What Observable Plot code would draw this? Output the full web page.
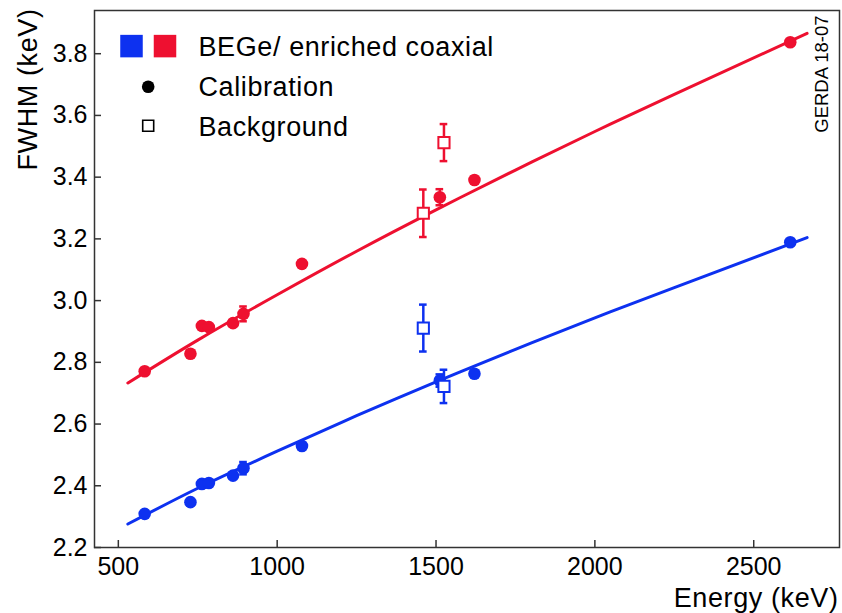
<!DOCTYPE html>
<html><head><meta charset="utf-8">
<script src="https://cdn.jsdelivr.net/npm/d3@7"></script>
<script src="https://cdn.jsdelivr.net/npm/@observablehq/plot@0.6"></script>
<style>
body{margin:0;background:#fff;}
#chart svg{font-family:"Liberation Sans",Arial,sans-serif;background:#fff;}
</style></head><body><div id="chart"></div>
<script>
// Calibration peaks (keV) and FWHM (keV)
const calEnergy = [583, 727, 763, 785, 861, 894, 1078, 1512, 1621, 2615];
const calBEGe = [2.309, 2.347, 2.406, 2.409, 2.433, 2.457, 2.529, 2.741, 2.763, 3.189];
const calBEGeErr = [0.008, 0.01, 0.008, 0.008, 0.01, 0.02, 0.01, 0.02, 0.01, 0.008];
const calCoax = [2.771, 2.828, 2.918, 2.914, 2.927, 2.957, 3.119, 3.335, 3.391, 3.837];
const calCoaxErr = [0.008, 0.01, 0.008, 0.008, 0.01, 0.024, 0.01, 0.026, 0.01, 0.008];
// Background lines (K-40, K-42)
const bkgEnergy = [1460, 1525];
const bkgBEGe = [2.911, 2.722];
const bkgBEGeErr = [0.076, 0.054];
const bkgCoax = [3.283, 3.512];
const bkgCoaxErr = [0.077, 0.060];
// Fit curves
const fitEnergy = [530, 750, 1000, 1250, 1500, 1750, 2000, 2250, 2668];
const fitBEGe = [2.276, 2.392, 2.512, 2.627, 2.737, 2.842, 2.944, 3.042, 3.204];
const fitCoax = [2.733, 2.872, 3.019, 3.160, 3.294, 3.423, 3.548, 3.668, 3.866];
// Axes
const xTicks = [500, 1000, 1500, 2000, 2500];
const yTicks = [2.2, 2.4, 2.6, 2.8, 3.0, 3.2, 3.4, 3.6, 3.8];
const seriesNames = ["BEGe", "coax"];
const seriesColors = ["#0d31f0", "#ee1030"];
const legendLabels = ["BEGe/ enriched coaxial", "Calibration", "Background"];
const tagText = "GERDA 18-07";

const cal = [], bkg = [], fit = [];
seriesNames.forEach((s, si) => {
  const cv = si === 0 ? calBEGe : calCoax, ce = si === 0 ? calBEGeErr : calCoaxErr;
  calEnergy.forEach((e, i) => cal.push({series: s, e, v: cv[i], err: ce[i]}));
  const bv = si === 0 ? bkgBEGe : bkgCoax, be = si === 0 ? bkgBEGeErr : bkgCoaxErr;
  bkgEnergy.forEach((e, i) => bkg.push({series: s, e, v: bv[i], err: be[i]}));
  const fv = si === 0 ? fitBEGe : fitCoax;
  fitEnergy.forEach((e, i) => fit.push({series: s, e, v: fv[i]}));
});
const capHalf = 12;
const caps = d => [
  {series: d.series, x1: d.e - capHalf, x2: d.e + capHalf, y: d.v - d.err},
  {series: d.series, x1: d.e - capHalf, x2: d.e + capHalf, y: d.v + d.err}
];
const col = s => seriesColors[seriesNames.indexOf(s)];

const chart = Plot.plot({
  width: 842, height: 613,
  marginLeft: 94, marginRight: 3, marginTop: 10, marginBottom: 66,
  x: {domain: [425, 2770]},
  y: {domain: [2.2, 3.94]},
  style: {fontFamily: '"Liberation Sans", Arial, sans-serif', color: "#000", background: "#fff"},
  marks: [
    Plot.line(fit, {x: "e", y: "v", z: "series", stroke: d => col(d.series), strokeWidth: 3, curve: "natural"}),
    Plot.ruleX(cal, {x: "e", y1: d => d.v - d.err, y2: d => d.v + d.err, stroke: d => col(d.series), strokeWidth: 2.5}),
    Plot.ruleY(cal.flatMap(caps), {x1: "x1", x2: "x2", y: "y", stroke: d => col(d.series), strokeWidth: 2.5}),
    Plot.dot(cal, {x: "e", y: "v", r: 6.3, fill: d => col(d.series), stroke: "none"}),
    Plot.ruleX(bkg, {x: "e", y1: d => d.v - d.err, y2: d => d.v + d.err, stroke: d => col(d.series), strokeWidth: 2.5}),
    Plot.ruleY(bkg.flatMap(caps), {x1: "x1", x2: "x2", y: "y", stroke: d => col(d.series), strokeWidth: 2.5}),
    Plot.dot(bkg, {x: "e", y: "v", r: 6.3, symbol: "square", fill: "white", stroke: d => col(d.series), strokeWidth: 2}),
    Plot.frame({stroke: "#333", strokeWidth: 1.5}),
    Plot.axisX(xTicks, {anchor: "bottom", tickSize: -7, tickPadding: 17, fontSize: 25, stroke: "#333", strokeWidth: 1.5, label: null, tickFormat: d => String(d)}),
    Plot.axisY(yTicks, {anchor: "left", tickSize: -7, tickPadding: 14, fontSize: 25, stroke: "#333", strokeWidth: 1.5, label: null, tickFormat: d => d.toFixed(1)}),
    // axis labels
    Plot.text(["FWHM (keV)"], {frameAnchor: "top-left", dx: -66, dy: -2, rotate: -90, textAnchor: "end", lineAnchor: "middle", fontSize: 27, fill: "#000"}),
    Plot.text(["Energy (keV)"], {frameAnchor: "bottom-right", dx: -1, dy: 51, textAnchor: "end", lineAnchor: "middle", fontSize: 27, fill: "#000"}),
    Plot.text([tagText], {frameAnchor: "top-right", dx: -17, dy: 5, rotate: -90, textAnchor: "end", lineAnchor: "middle", fontSize: 18.5, fill: "#000"}),
    // legend
    Plot.dot([seriesNames[0]], {frameAnchor: "top-left", dx: 37, dy: 35.6, r: 12.7, symbol: "square", fill: seriesColors[0]}),
    Plot.dot([seriesNames[1]], {frameAnchor: "top-left", dx: 70.5, dy: 35.6, r: 12.7, symbol: "square", fill: seriesColors[1]}),
    Plot.text([legendLabels[0]], {frameAnchor: "top-left", dx: 104, dy: 37, textAnchor: "start", lineAnchor: "middle", fontSize: 27, fill: "#000"}),
    Plot.dot([0], {frameAnchor: "top-left", dx: 53.7, dy: 76.3, r: 6.3, fill: "#000"}),
    Plot.text([legendLabels[1]], {frameAnchor: "top-left", dx: 104, dy: 76.8, textAnchor: "start", lineAnchor: "middle", fontSize: 27, fill: "#000"}),
    Plot.dot([0], {frameAnchor: "top-left", dx: 53.7, dy: 115.3, r: 6.2, symbol: "square", fill: "white", stroke: "#000", strokeWidth: 1.6}),
    Plot.text([legendLabels[2]], {frameAnchor: "top-left", dx: 104, dy: 117, textAnchor: "start", lineAnchor: "middle", fontSize: 27, fill: "#000"})
  ]
});
// slightly wider glyph spacing for the large labels, as in the reference
d3.select(chart).selectAll("text").filter(function () {
  return ["FWHM (keV)", "Energy (keV)"].concat(legendLabels).includes(this.textContent);
}).attr("letter-spacing", "0.6px");
document.getElementById("chart").appendChild(chart);
</script></body></html>
